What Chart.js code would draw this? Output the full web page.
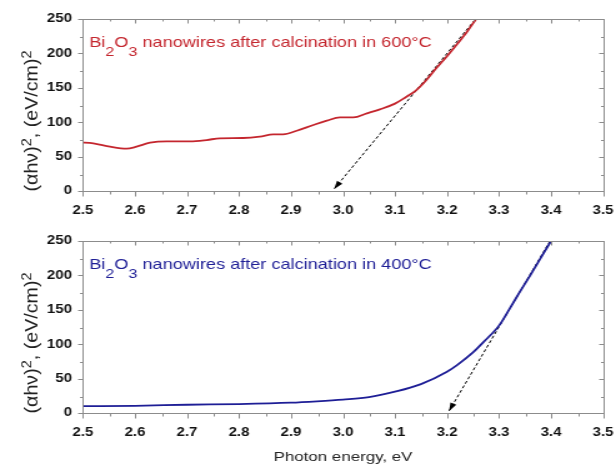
<!DOCTYPE html>
<html>
<head>
<meta charset="utf-8">
<script src="https://cdn.jsdelivr.net/npm/chart.js@4.4.0/dist/chart.umd.min.js"></script>
<style>
  body { margin: 0; background: #fff; }
  canvas { display: block; }
  #chart400 { margin-top: -13px; }
</style>
</head>
<body>
<!-- the source figure is stretched sideways, so draw narrow and widen with css -->
<canvas id="chart600" width="493" height="235" style="width:616px;height:235px"></canvas>
<canvas id="chart400" width="493" height="248" style="width:616px;height:248px"></canvas>
<script>
// data
const energy600 = [2.494, 2.52, 2.552, 2.584, 2.603, 2.629, 2.661, 2.706, 2.738, 2.763, 2.808, 2.84, 2.866, 2.885, 2.911, 2.943, 2.969, 2.994, 3.02, 3.046, 3.071, 3.10, 3.12, 3.14, 3.16, 3.18, 3.20, 3.22, 3.24, 3.255];
const abs600 = [70.8, 69.3, 64.4, 61.5, 64.4, 70.2, 72.2, 72.2, 74.1, 76.6, 77, 79, 82.4, 82.4, 87.6, 95.9, 102.2, 107, 107, 112.9, 118.7, 127, 136, 146, 161, 179, 196, 214, 233, 249];
const tangent600X = [3.254, 2.983];
const tangent600Y = [249, 3];

const energy400 = [2.50, 2.60, 2.70, 2.80, 2.90, 2.95, 3.00, 3.05, 3.10, 3.15, 3.20, 3.22, 3.25, 3.27, 3.30, 3.32, 3.34, 3.36, 3.38, 3.40];
const abs400 = [10, 10.5, 12, 13, 15, 17, 19.5, 23, 31, 42, 60, 70, 88, 103, 127, 151, 176, 200, 225, 250];
const tangent400X = [3.398, 3.204];
const tangent400Y = [250, 3];

const xMin = 2.5, xMax = 3.5, xStep = 0.1;
const yMin = 0, yMax = 250, yStep = 50;

const RED = '#c4262e';
const BLUE = '#1e1e96';
const FONT = "'Liberation Sans', Arial, sans-serif";

function toPoints(xs, ys) {
    return xs.map((x, i) => ({ x: x, y: ys[i] }));
}

// box, inward/outward ticks, arrow head, panel label and y title
const panelDecor = {
    id: 'panelDecor',
    afterDatasetsDraw(chart) {
        const { ctx } = chart;
        chart.data.datasets.forEach((ds, i) => {
            if (!ds.arrow) return;
            const pts = chart.getDatasetMeta(i).data;
            const p1 = pts[pts.length - 2], p2 = pts[pts.length - 1];
            const ang = Math.atan2(p2.y - p1.y, p2.x - p1.x);
            ctx.save();
            ctx.translate(p2.x, p2.y);
            ctx.rotate(ang);
            ctx.fillStyle = '#000';
            ctx.beginPath();
            ctx.moveTo(0, 0);
            ctx.lineTo(-8, -2.6);
            ctx.lineTo(-8, 2.6);
            ctx.closePath();
            ctx.fill();
            ctx.restore();
        });
    },
    afterDraw(chart, args, opts) {
        const { ctx, chartArea: a, scales: { x, y } } = chart;
        const L = Math.round(a.left) + 0.5, R = Math.round(a.right) + 0.5;
        const T = Math.round(a.top) + 0.5, B = Math.round(a.bottom) + 0.5;
        ctx.save();
        ctx.strokeStyle = '#8c8c8c';
        ctx.lineWidth = 1;
        ctx.strokeRect(L, T, R - L, B - T);

        const ticksOf = (scale) => {
            const major = scale.ticks.map(t => Math.round(scale.getPixelForValue(t.value)) + 0.5);
            const minor = [];
            for (let i = 0; i < major.length - 1; i++) minor.push(Math.round((major[i] + major[i + 1]) / 2) + 0.5);
            return { major, minor };
        };
        const xt = ticksOf(x), yt = ticksOf(y);
        ctx.beginPath();
        const xTick = (px, len) => {
            ctx.moveTo(px, B); ctx.lineTo(px, B + len);
            ctx.moveTo(px, T); ctx.lineTo(px, T + len - 1);
        };
        const yTick = (py, len) => {
            ctx.moveTo(L, py); ctx.lineTo(L - len, py);
            ctx.moveTo(R, py); ctx.lineTo(R - len, py);
        };
        xt.major.forEach(p => xTick(p, 5));
        xt.minor.forEach(p => xTick(p, 3));
        yt.major.forEach(p => yTick(p, 4));
        yt.minor.forEach(p => yTick(p, 2.5));
        ctx.stroke();

        // sample label: Bi2O3 with subscripts
        ctx.fillStyle = opts.color;
        ctx.textBaseline = 'alphabetic';
        ctx.textAlign = 'left';
        let tx = x.getPixelForValue(opts.labelX);
        const ty = a.top + 28;
        const parts = [['Bi', 0], ['2', 1], ['O', 0], ['3', 1], [' nanowires after calcination in ' + opts.temp, 0]];
        parts.forEach(([s, sub]) => {
            ctx.font = (sub ? '13px ' : '14.5px ') + FONT;
            ctx.fillText(s, tx, ty + (sub ? 9 : 0));
            tx += ctx.measureText(s).width;
        });

        // rotated y axis title with superscripts
        ctx.save();
        ctx.translate(30.4, (a.top + a.bottom) / 2 + 16);
        ctx.rotate(-Math.PI / 2);
        ctx.fillStyle = '#222';
        const yParts = [['(\u03b1h\u03bd)', 0], ['2', 1], [', (eV/cm)', 0], ['2', 1]];
        let w = 0;
        yParts.forEach(([s, sup]) => { ctx.font = (sup ? '11px ' : '15px ') + FONT; w += ctx.measureText(s).width; });
        ctx.scale(opts.titleLen / w, 1);
        let cx = -w / 2;
        yParts.forEach(([s, sup]) => {
            ctx.font = (sup ? '11px ' : '15px ') + FONT;
            ctx.fillText(s, cx, sup ? -5 : 0);
            cx += ctx.measureText(s).width;
        });
        ctx.restore();
        ctx.restore();
    }
};

function makePanel(canvasId, energy, absorb, tanX, tanY, color, temp, showTitle) {
    return new Chart(document.getElementById(canvasId), {
        type: 'scatter',
        data: {
            datasets: [
                {
                    data: toPoints(energy, absorb),
                    showLine: true,
                    borderColor: color,
                    borderWidth: 1.8,
                    pointRadius: 0,
                    cubicInterpolationMode: 'monotone'
                },
                {
                    data: toPoints(tanX, tanY),
                    showLine: true,
                    borderColor: '#000',
                    borderWidth: 1,
                    borderDash: [3, 2],
                    pointRadius: 0,
                    arrow: true
                }
            ]
        },
        options: {
            responsive: false,
            animation: false,
            devicePixelRatio: 1,
            layout: { padding: { top: 19, right: 0, left: 0, bottom: 0 } },
            plugins: {
                legend: { display: false },
                tooltip: { enabled: false },
                panelDecor: { color: color, temp: temp, labelX: 2.512, titleLen: 141 }
            },
            scales: {
                x: {
                    type: 'linear',
                    min: xMin, max: xMax,
                    grid: { display: false, drawTicks: false },
                    border: { display: false },
                    ticks: {
                        stepSize: xStep,
                        padding: 12,
                        color: '#111',
                        font: { family: FONT, size: 12, weight: 'bold' },
                        callback: v => v.toFixed(1)
                    },
                    title: {
                        display: showTitle,
                        text: 'Photon energy, eV',
                        color: '#222',
                        font: { family: FONT, size: 13.5 },
                        padding: { top: 4, bottom: 5 }
                    },
                    afterFit: s => {
                        s.height = showTitle ? 57 : 44;
                        s.paddingRight = 10.4;
                    }
                },
                y: {
                    min: yMin, max: yMax,
                    grid: { display: false, drawTicks: false },
                    border: { display: false },
                    ticks: {
                        stepSize: yStep,
                        padding: 8.8,
                        color: '#111',
                        font: { family: FONT, size: 12, weight: 'bold' }
                    },
                    afterFit: s => { s.width = 66.4; }
                }
            }
        },
        plugins: [panelDecor]
    });
}

makePanel('chart600', energy600, abs600, tangent600X, tangent600Y, RED, '600\u00b0C', false);
makePanel('chart400', energy400, abs400, tangent400X, tangent400Y, BLUE, '400\u00b0C', true);
</script>
</body>
</html>
